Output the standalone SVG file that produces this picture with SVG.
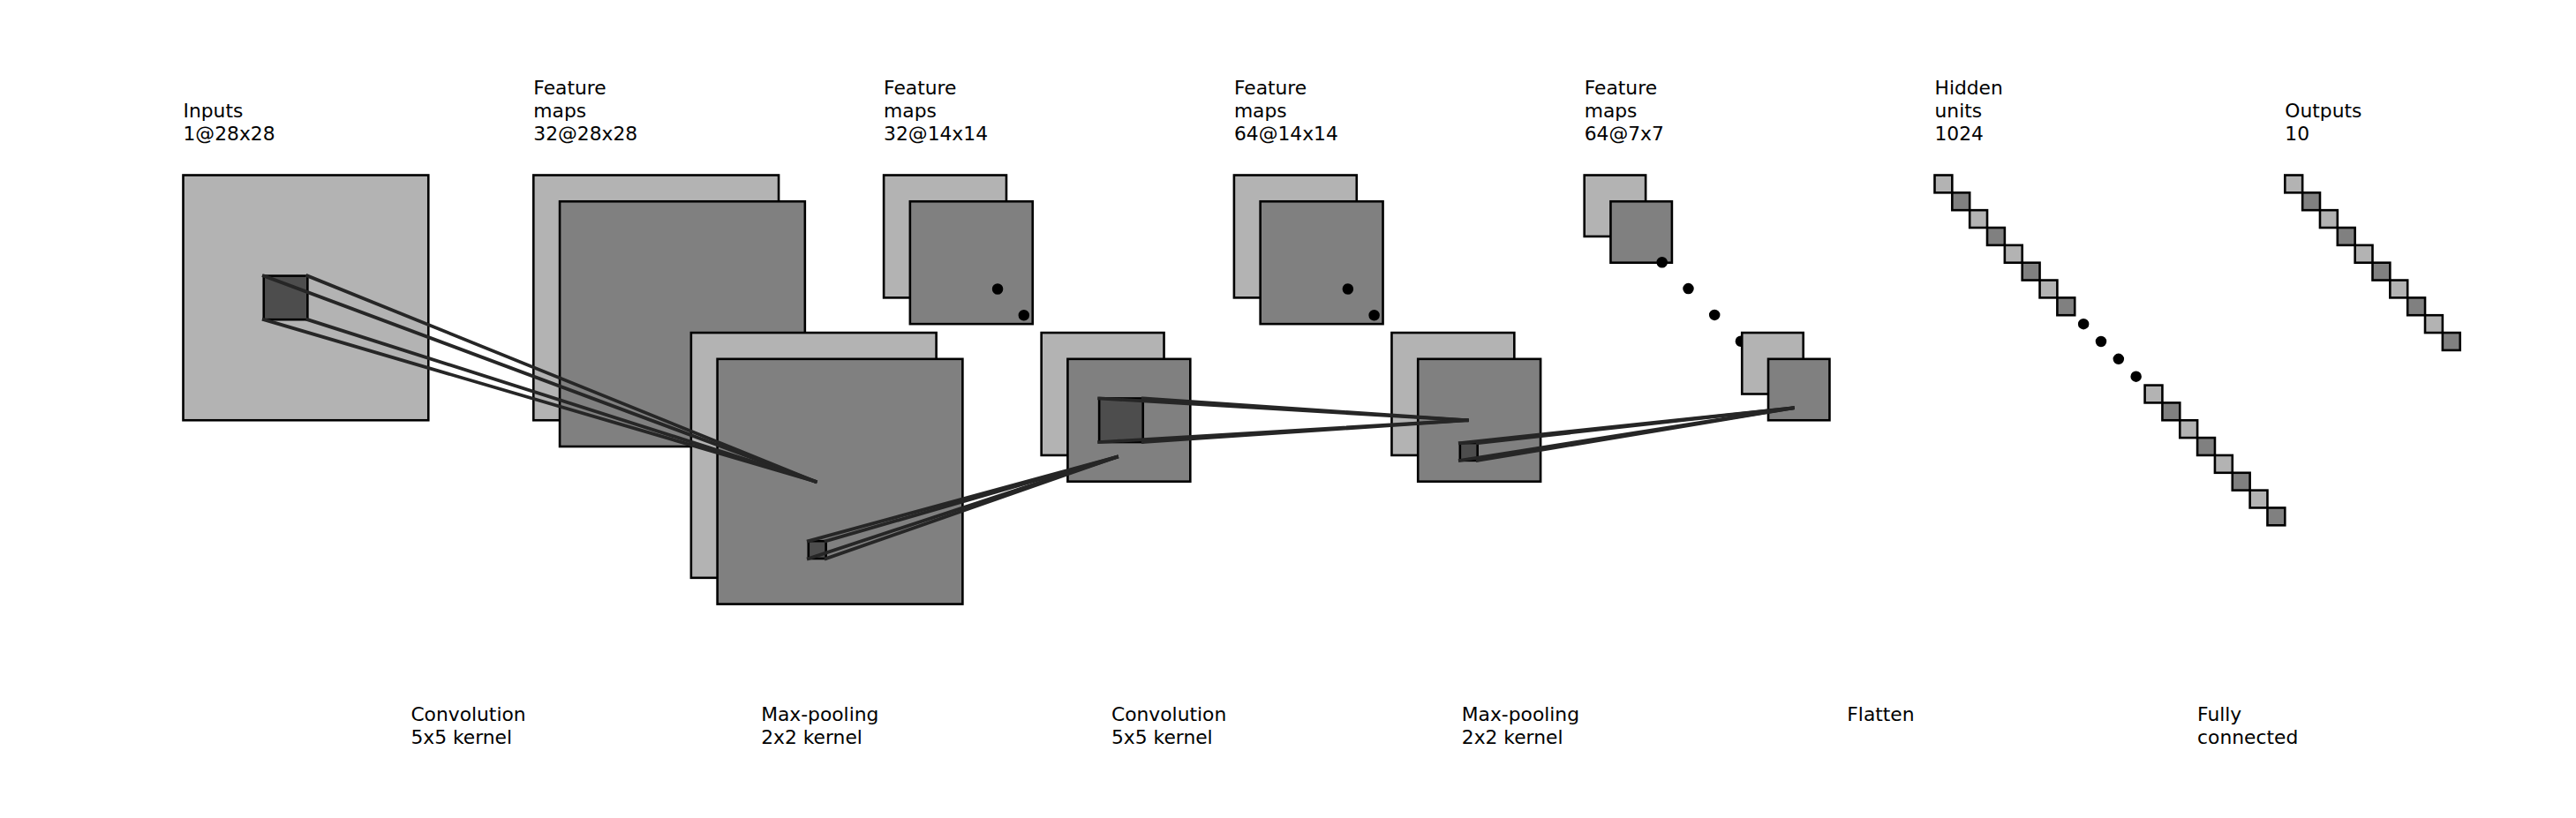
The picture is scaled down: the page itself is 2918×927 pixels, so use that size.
<svg xmlns="http://www.w3.org/2000/svg" width="2918" height="927" viewBox="0 0 2918 927">
<style>
.lt{fill:#b3b3b3;stroke:#000;stroke-width:2.6}
.md{fill:#808080;stroke:#000;stroke-width:2.6}
.kn{fill:#4d4d4d;stroke:#000;stroke-width:2.6}
.dot{fill:#000;stroke:#000;stroke-width:2.6}
.ln{stroke:#262626;stroke-width:3.8;stroke-linecap:square;fill:none}
text{font-family:"DejaVu Sans","Liberation Sans",sans-serif;font-size:21.8px;fill:#000}
</style>
<rect width="2918" height="927" fill="#fff"/>
<g id="inputs">
<rect class="lt" x="207.5" y="198.5" width="277.76" height="277.76"/>
<text x="207.5" y="132.8">Inputs</text><text x="207.5" y="158.8">1@28x28</text>
</g>
<g id="conv1">
<rect class="lt" x="604.3" y="198.5" width="277.76" height="277.76"/>
<rect class="md" x="634.06" y="228.26" width="277.76" height="277.76"/>
<rect class="lt" x="782.86" y="377.06" width="277.76" height="277.76"/>
<rect class="md" x="812.62" y="406.82" width="277.76" height="277.76"/>
<text x="604.3" y="106.8">Feature</text><text x="604.3" y="132.8">maps</text><text x="604.3" y="158.8">32@28x28</text>
</g>
<g id="pool1">
<rect class="lt" x="1001.1" y="198.5" width="138.88" height="138.88"/>
<rect class="md" x="1030.86" y="228.26" width="138.88" height="138.88"/>
<circle class="dot" cx="1130.06" cy="327.46" r="4.96"/>
<circle class="dot" cx="1159.82" cy="357.22" r="4.96"/>
<rect class="lt" x="1179.66" y="377.06" width="138.88" height="138.88"/>
<rect class="md" x="1209.42" y="406.82" width="138.88" height="138.88"/>
<text x="1001.1" y="106.8">Feature</text><text x="1001.1" y="132.8">maps</text><text x="1001.1" y="158.8">32@14x14</text>
</g>
<g id="conv2">
<rect class="lt" x="1397.9" y="198.5" width="138.88" height="138.88"/>
<rect class="md" x="1427.66" y="228.26" width="138.88" height="138.88"/>
<circle class="dot" cx="1526.86" cy="327.46" r="4.96"/>
<circle class="dot" cx="1556.62" cy="357.22" r="4.96"/>
<rect class="lt" x="1576.46" y="377.06" width="138.88" height="138.88"/>
<rect class="md" x="1606.22" y="406.82" width="138.88" height="138.88"/>
<text x="1397.9" y="106.8">Feature</text><text x="1397.9" y="132.8">maps</text><text x="1397.9" y="158.8">64@14x14</text>
</g>
<g id="pool2">
<rect class="lt" x="1794.7" y="198.5" width="69.44" height="69.44"/>
<rect class="md" x="1824.46" y="228.26" width="69.44" height="69.44"/>
<circle class="dot" cx="1882.7" cy="297.3" r="4.96"/>
<circle class="dot" cx="1912.5" cy="327.1" r="4.96"/>
<circle class="dot" cx="1942.2" cy="356.9" r="4.96"/>
<circle class="dot" cx="1971.9" cy="386.7" r="4.96"/>
<rect class="lt" x="1973.26" y="377.06" width="69.44" height="69.44"/>
<rect class="md" x="2003.02" y="406.82" width="69.44" height="69.44"/>
<text x="1794.7" y="106.8">Feature</text><text x="1794.7" y="132.8">maps</text><text x="1794.7" y="158.8">64@7x7</text>
</g>
<g id="hidden">
<rect class="lt" x="2191.5" y="198.5" width="19.84" height="19.84"/>
<rect class="md" x="2211.34" y="218.34" width="19.84" height="19.84"/>
<rect class="lt" x="2231.18" y="238.18" width="19.84" height="19.84"/>
<rect class="md" x="2251.02" y="258.02" width="19.84" height="19.84"/>
<rect class="lt" x="2270.86" y="277.86" width="19.84" height="19.84"/>
<rect class="md" x="2290.7" y="297.7" width="19.84" height="19.84"/>
<rect class="lt" x="2310.54" y="317.54" width="19.84" height="19.84"/>
<rect class="md" x="2330.38" y="337.38" width="19.84" height="19.84"/>
<circle class="dot" cx="2360.14" cy="367.14" r="4.96"/>
<circle class="dot" cx="2379.98" cy="386.98" r="4.96"/>
<circle class="dot" cx="2399.82" cy="406.82" r="4.96"/>
<circle class="dot" cx="2419.66" cy="426.66" r="4.96"/>
<rect class="lt" x="2429.58" y="436.58" width="19.84" height="19.84"/>
<rect class="md" x="2449.42" y="456.42" width="19.84" height="19.84"/>
<rect class="lt" x="2469.26" y="476.26" width="19.84" height="19.84"/>
<rect class="md" x="2489.1" y="496.1" width="19.84" height="19.84"/>
<rect class="lt" x="2508.94" y="515.94" width="19.84" height="19.84"/>
<rect class="md" x="2528.78" y="535.78" width="19.84" height="19.84"/>
<rect class="lt" x="2548.62" y="555.62" width="19.84" height="19.84"/>
<rect class="md" x="2568.46" y="575.46" width="19.84" height="19.84"/>
<text x="2191.5" y="106.8">Hidden</text><text x="2191.5" y="132.8">units</text><text x="2191.5" y="158.8">1024</text>
</g>
<g id="outputs">
<rect class="lt" x="2588.3" y="198.5" width="19.84" height="19.84"/>
<rect class="md" x="2608.14" y="218.34" width="19.84" height="19.84"/>
<rect class="lt" x="2627.98" y="238.18" width="19.84" height="19.84"/>
<rect class="md" x="2647.82" y="258.02" width="19.84" height="19.84"/>
<rect class="lt" x="2667.66" y="277.86" width="19.84" height="19.84"/>
<rect class="md" x="2687.5" y="297.7" width="19.84" height="19.84"/>
<rect class="lt" x="2707.34" y="317.54" width="19.84" height="19.84"/>
<rect class="md" x="2727.18" y="337.38" width="19.84" height="19.84"/>
<rect class="lt" x="2747.02" y="357.22" width="19.84" height="19.84"/>
<rect class="md" x="2766.86" y="377.06" width="19.84" height="19.84"/>
<text x="2588.3" y="132.8">Outputs</text><text x="2588.3" y="158.8">10</text>
</g>
<g id="kernels">
<rect class="kn" x="298.76" y="312.58" width="49.6" height="49.6"/>
<rect class="kn" x="915.79" y="613.16" width="19.84" height="19.84"/>
<rect class="kn" x="1245.13" y="451.46" width="49.6" height="49.6"/>
<rect class="kn" x="1653.84" y="502.05" width="19.84" height="19.84"/>
</g>
<g id="connectors">
<line class="ln" x1="298.76" y1="312.58" x2="923.72" y2="545.7"/>
<line class="ln" x1="348.36" y1="312.58" x2="923.72" y2="545.7"/>
<line class="ln" x1="298.76" y1="362.18" x2="923.72" y2="545.7"/>
<line class="ln" x1="348.36" y1="362.18" x2="923.72" y2="545.7"/>
<line class="ln" x1="915.79" y1="613.16" x2="1264.97" y2="517.92"/>
<line class="ln" x1="935.63" y1="613.16" x2="1264.97" y2="517.92"/>
<line class="ln" x1="915.79" y1="633.0" x2="1264.97" y2="517.92"/>
<line class="ln" x1="935.63" y1="633.0" x2="1264.97" y2="517.92"/>
<line class="ln" x1="1245.13" y1="451.46" x2="1661.77" y2="476.26"/>
<line class="ln" x1="1294.73" y1="451.46" x2="1661.77" y2="476.26"/>
<line class="ln" x1="1245.13" y1="501.06" x2="1661.77" y2="476.26"/>
<line class="ln" x1="1294.73" y1="501.06" x2="1661.77" y2="476.26"/>
<line class="ln" x1="1653.84" y1="502.05" x2="2030.8" y2="462.37"/>
<line class="ln" x1="1673.68" y1="502.05" x2="2030.8" y2="462.37"/>
<line class="ln" x1="1653.84" y1="521.89" x2="2030.8" y2="462.37"/>
<line class="ln" x1="1673.68" y1="521.89" x2="2030.8" y2="462.37"/>
</g>
<g id="op-labels">
<text x="465.4" y="817.3">Convolution</text><text x="465.4" y="843.3">5x5 kernel</text>
<text x="862.2" y="817.3">Max-pooling</text><text x="862.2" y="843.3">2x2 kernel</text>
<text x="1259" y="817.3">Convolution</text><text x="1259" y="843.3">5x5 kernel</text>
<text x="1655.8" y="817.3">Max-pooling</text><text x="1655.8" y="843.3">2x2 kernel</text>
<text x="2092.3" y="817.3">Flatten</text>
<text x="2489.1" y="817.3">Fully</text><text x="2489.1" y="843.3">connected</text>
</g>
</svg>
